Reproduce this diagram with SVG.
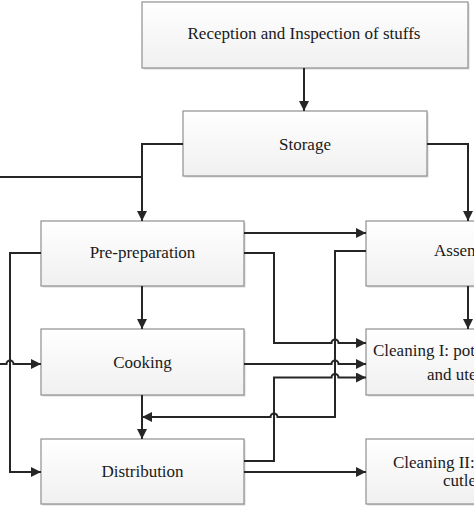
<svg xmlns="http://www.w3.org/2000/svg" width="474" height="507" viewBox="0 0 474 507">
<style>
.box{fill:url(#g);stroke:#8f8f8f;stroke-width:1.2}
.sh{fill:#d8d8d8}
.t{font-family:"Liberation Serif","Times New Roman",serif;font-size:17px;fill:#1a1a1a}
.c{text-anchor:middle}
.ln{fill:none;stroke:#262626;stroke-width:2}
.ar{marker-end:url(#a)}
</style>
<defs>
<linearGradient id="g" x1="0" y1="0" x2="0" y2="1">
<stop offset="0" stop-color="#ffffff"/>
<stop offset="1" stop-color="#f0f0f0"/>
</linearGradient>
<marker id="a" markerUnits="userSpaceOnUse" markerWidth="11" markerHeight="10" refX="10" refY="5" orient="auto">
<path d="M0,0 L10,5 L0,10 Z" fill="#262626"/>
</marker>
</defs>
<rect width="474" height="507" fill="#ffffff"/>

<g id="reception">
<rect class="sh" x="143.5" y="3.5" width="326" height="66"/>
<rect class="box" x="142" y="2" width="326" height="66"/>
<text class="t c" x="304" y="39">Reception and Inspection of stuffs</text>
</g>
<g id="storage">
<rect class="sh" x="184.5" y="112.5" width="244" height="65"/>
<rect class="box" x="183" y="111" width="244" height="65"/>
<text class="t c" x="305" y="150">Storage</text>
</g>
<g id="pre-preparation">
<rect class="sh" x="42.5" y="222.5" width="203" height="65"/>
<rect class="box" x="41" y="221" width="203" height="65"/>
<text class="t c" x="142.5" y="258">Pre-preparation</text>
</g>
<g id="cooking">
<rect class="sh" x="42.5" y="330.5" width="203" height="66"/>
<rect class="box" x="41" y="329" width="203" height="66"/>
<text class="t c" x="142.5" y="368">Cooking</text>
</g>
<g id="distribution">
<rect class="sh" x="42.5" y="440.5" width="203" height="65"/>
<rect class="box" x="41" y="439" width="203" height="65"/>
<text class="t c" x="142.5" y="477">Distribution</text>
</g>
<g id="assembly">
<rect class="sh" x="367.5" y="222.5" width="203" height="65"/>
<rect class="box" x="366" y="221" width="203" height="65"/>
<text class="t" x="434" y="256">Assem</text>
</g>
<g id="cleaning-1">
<rect class="sh" x="367.5" y="330.5" width="203" height="66"/>
<rect class="box" x="366" y="329" width="203" height="66"/>
<text class="t" x="373" y="356">Cleaning I: pot</text>
<text class="t" x="427" y="380">and ute</text>
</g>
<g id="cleaning-2">
<rect class="sh" x="367.5" y="440.5" width="203" height="65"/>
<rect class="box" x="366" y="439" width="203" height="65"/>
<text class="t" x="393" y="468">Cleaning II:</text>
<text class="t" x="443" y="486">cutle</text>
</g>

<g id="connectors">
<path class="ln ar" d="M304,68 V111"/>
<path class="ln ar" d="M183,144 H142 V221"/>
<path class="ln" d="M0,177 H142"/>
<path class="ln ar" d="M427,144 H468 V221"/>
<path class="ln ar" d="M244,233 H366"/>
<path class="ln ar" d="M244,253 H274 V343 H331.5 a3.5,3.5 0 0 1 7,0 H366"/>
<path class="ln ar" d="M366,251 H335 V417 H277.5 a3.5,3.5 0 0 0 -7,0 H142"/>
<path class="ln ar" d="M244,364 H331.5 a3.5,3.5 0 0 1 7,0 H366"/>
<path class="ln ar" d="M244,461 H274 V377.5 H331.5 a3.5,3.5 0 0 1 7,0 H366"/>
<path class="ln ar" d="M244,472 H366"/>
<path class="ln ar" d="M41,253 H10 V472 H41"/>
<path class="ln ar" d="M0,364 H6.5 a3.5,3.5 0 0 1 7,0 H41"/>
<path class="ln ar" d="M142,286 V329"/>
<path class="ln ar" d="M142,395 V439"/>
<path class="ln ar" d="M468,286 V329"/>
</g>
</svg>
